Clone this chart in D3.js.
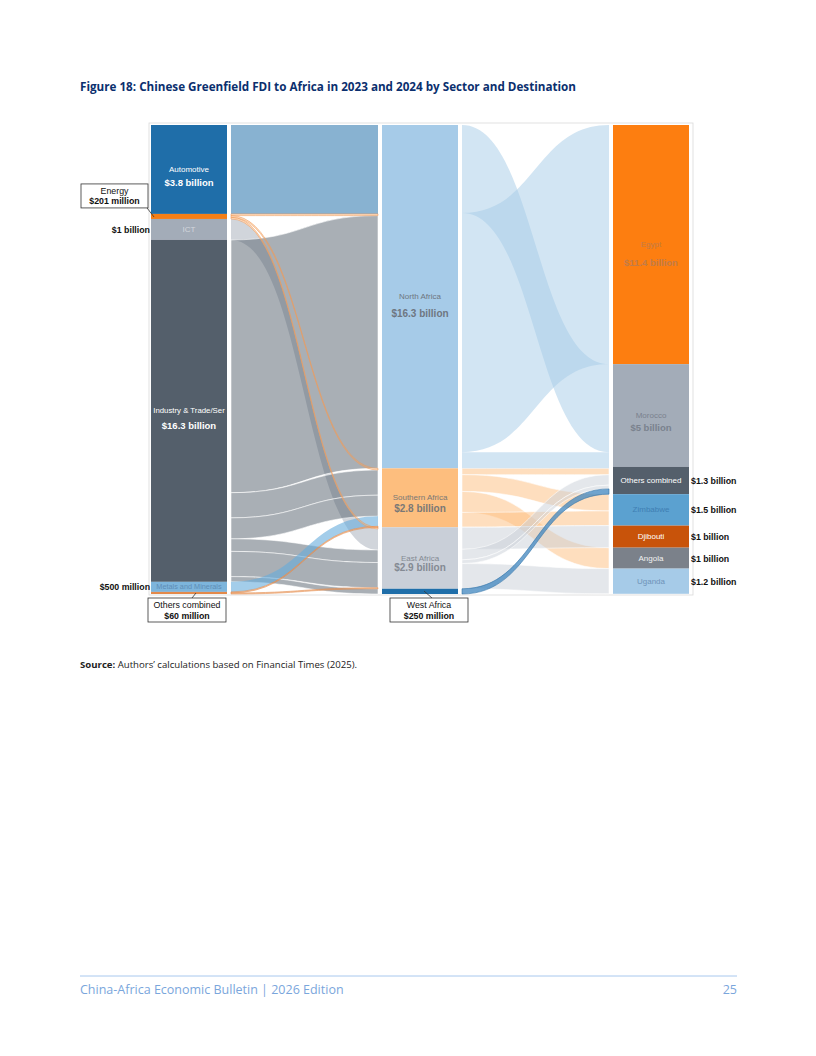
<!DOCTYPE html>
<html>
<head>
<meta charset="utf-8">
<script src="https://cdn.jsdelivr.net/npm/d3@7"></script>
<style>
  body { margin: 0; background: #fff; }
  text { font-family: "Liberation Sans", Arial, sans-serif; }
</style>
</head>
<body>
<script>
// DATA
const sectors = ["Automotive", "Energy", "ICT", "Industry & Trade/Ser", "Metals and Minerals", "Others combined"];
const regions = ["North Africa", "Southern Africa", "East Africa", "West Africa"];
const countries = ["Egypt", "Morocco", "Others combined", "Zimbabwe", "Djibouti", "Angola", "Uganda"];

const sectorLabels = ["$3.8 billion", "$201 million", "$1 billion", "$16.3 billion", "$500 million", "$60 million"];
const regionLabels = ["$16.3 billion", "$2.8 billion", "$2.9 billion", "$250 million"];
const countryLabels = ["$11.4 billion", "$5 billion", "$1.3 billion", "$1.5 billion", "$1 billion", "$1 billion", "$1.2 billion"];

// sector -> region (US$ billion)
const sectorFlows = [
  {from: "Automotive", to: "North Africa", value: 4.24},
  {from: "Energy", to: "North Africa", value: 0.08},
  {from: "Energy", to: "Southern Africa", value: 0.08},
  {from: "Energy", to: "East Africa", value: 0.08},
  {from: "ICT", to: "East Africa", value: 1.0},
  {from: "Industry & Trade/Ser", to: "North Africa", value: 12.05},
  {from: "Industry & Trade/Ser", to: "Southern Africa", value: 1.2},
  {from: "Industry & Trade/Ser", to: "Southern Africa", value: 1.0},
  {from: "Industry & Trade/Ser", to: "East Africa", value: 0.6},
  {from: "Industry & Trade/Ser", to: "East Africa", value: 1.2},
  {from: "Industry & Trade/Ser", to: "West Africa", value: 0.25},
  {from: "Metals and Minerals", to: "Southern Africa", value: 0.48},
  {from: "Others combined", to: "Southern Africa", value: 0.05},
  {from: "Others combined", to: "East Africa", value: 0.05}
];

// region -> country
const regionFlows = [
  {from: "North Africa", to: "Morocco", value: 4.2},
  {from: "North Africa", to: "Egypt", value: 11.4},
  {from: "North Africa", to: "Morocco", value: 0.7},
  {from: "North Africa", to: "Others combined", value: 0.07},
  {from: "Southern Africa", to: "Others combined", value: 0.3},
  {from: "Southern Africa", to: "Zimbabwe", value: 0.8},
  {from: "Southern Africa", to: "Angola", value: 1.0},
  {from: "Southern Africa", to: "Zimbabwe", value: 0.7},
  {from: "East Africa", to: "Djibouti", value: 1.05},
  {from: "East Africa", to: "Others combined", value: 0.5},
  {from: "East Africa", to: "Others combined", value: 0.18},
  {from: "East Africa", to: "Uganda", value: 1.2},
  {from: "West Africa", to: "Others combined", value: 0.25}
];

// STYLES
const sectorColor = {"Automotive": "#1f6ea9", "Energy": "#f57f17", "ICT": "#a3acb8",
  "Industry & Trade/Ser": "#545f6b", "Metals and Minerals": "#7db5dc", "Others combined": "#e3894a"};
const regionColor = {"North Africa": "#a6cbe8", "Southern Africa": "#fdbe7e", "East Africa": "#c9cfd8", "West Africa": "#1f6ea9"};
const countryColor = {"Egypt": "#fd7e10", "Morocco": "#a3acb8", "Others combined": "#545f6b", "Zimbabwe": "#5ba1d0",
  "Djibouti": "#c8530a", "Angola": "#7b818a", "Uganda": "#a6cbe8"};

const sectorText = {"Automotive": "#fff", "ICT": "#d3d7dd", "Industry & Trade/Ser": "#fff", "Metals and Minerals": "#5e8db6"};
const regionText = {"North Africa": "#6e7681", "Southern Africa": "#7a7876", "East Africa": "#848a93"};
const countryText = {"Egypt": "#c27c48", "Morocco": "#7a828e", "Others combined": "#fff", "Zimbabwe": "#3f7fb3",
  "Djibouti": "#fff", "Angola": "#f2f2f2", "Uganda": "#6f93b8"};

const svg = d3.select("body").append("svg")
  .attr("width", 816)
  .attr("height", 1056);

// title
svg.append("text")
  .attr("x", 80).attr("y", 91)
  .attr("textLength", 496).attr("lengthAdjust", "spacingAndGlyphs")
  .style("font-family", "'Open Sans', sans-serif")
  .style("font-weight", 700).style("font-size", "12.5px")
  .attr("fill", "#0b2f6e")
  .text("Figure 18: Chinese Greenfield FDI to Africa in 2023 and 2024 by Sector and Destination");

// frame
svg.append("rect")
  .attr("x", 149).attr("y", 123).attr("width", 544).attr("height", 472)
  .attr("fill", "none").attr("stroke", "#dadada").attr("stroke-width", 0.8);

// scales
const sumBy = (flows, key) => d3.rollup(flows, v => d3.sum(v, d => d.value), d => d[key]);
const sectorTot = sumBy(sectorFlows, "from");
const regionTot = sumBy(sectorFlows, "to");
const countryTot = sumBy(regionFlows, "to");
const maxTot = d3.max([d3.sum(sectorTot.values()), d3.sum(regionTot.values()), d3.sum(countryTot.values())]);

const yScale = d3.scaleLinear().domain([0, maxTot]).range([125, 594]);
const xScale = d3.scalePoint().domain(["sector", "region", "country"]).range([151, 613]);
const nodeW = 76, gap = 4;

function column(names, totals, col) {
  let acc = 0;
  return names.map(n => {
    const v = totals.get(n) || 0;
    const node = {name: n, value: v, x0: xScale(col), x1: xScale(col) + nodeW, y0: yScale(acc), y1: yScale(acc + v)};
    acc += v;
    return node;
  });
}

const sNodes = column(sectors, sectorTot, "sector");
const rNodes = column(regions, regionTot, "region");
const cNodes = column(countries, countryTot, "country");

function placeLinks(flows, srcNodes, tgtNodes) {
  const srcIdx = new Map(srcNodes.map((d, i) => [d.name, i]));
  const srcOff = new Map(srcNodes.map(d => [d.name, d.y0]));
  const tgtOff = new Map(tgtNodes.map(d => [d.name, d.y0]));
  const links = flows.map((f, i) => ({...f, i, h: yScale(f.value) - yScale(0)}));
  links.forEach(l => { l.sy = srcOff.get(l.from); srcOff.set(l.from, l.sy + l.h); });
  links.slice().sort((a, b) => d3.ascending(srcIdx.get(a.from), srcIdx.get(b.from)) || a.i - b.i)
    .forEach(l => { l.ty = tgtOff.get(l.to); tgtOff.set(l.to, l.ty + l.h); });
  return links;
}

function band(l, x0, x1) {
  const xm = (x0 + x1) / 2;
  const p = d3.path();
  p.moveTo(x0, l.sy);
  p.bezierCurveTo(xm, l.sy, xm, l.ty, x1, l.ty);
  p.lineTo(x1, l.ty + l.h);
  p.bezierCurveTo(xm, l.ty + l.h, xm, l.sy + l.h, x0, l.sy + l.h);
  p.closePath();
  return p.toString();
}

const flowStyle = {
  "Automotive": {fill: "#1f6ea9", op: 0.53, stroke: "none"},
  "Energy": {fill: "#f8a35a", op: 0.35, stroke: "#ee9a5a"},
  "ICT": {fill: "#a3acb8", op: 0.5, stroke: "none"},
  "Industry & Trade/Ser": {fill: "#545f6b", op: 0.5, stroke: "#fff"},
  "Metals and Minerals": {fill: "#66acdc", op: 0.6, stroke: "none"},
  "Others combined": {fill: "#f0a060", op: 0.5, stroke: "#e3894a"},
  "North Africa": {fill: "#a6cbe8", op: 0.5, stroke: "none"},
  "Southern Africa": {fill: "#fdbe7e", op: 0.5, stroke: "#fff"},
  "East Africa": {fill: "#c9cfd8", op: 0.5, stroke: "#fff"},
  "West Africa": {fill: "#3f86bf", op: 0.75, stroke: "#2d6fa6"}
};

function drawLinks(links, x0, x1) {
  const ordered = links.slice().sort((a, b) => d3.descending(a.h > 3, b.h > 3) || a.i - b.i);
  svg.append("g").selectAll("path").data(ordered).join("path")
    .attr("d", d => band(d, x0, x1))
    .attr("fill", d => flowStyle[d.from].fill)
    .attr("fill-opacity", d => flowStyle[d.from].op)
    .attr("stroke", d => flowStyle[d.from].stroke)
    .attr("stroke-width", 0.7)
    .attr("stroke-opacity", 0.8);
}

const links1 = placeLinks(sectorFlows, sNodes, rNodes);
const links2 = placeLinks(regionFlows, rNodes, cNodes);
drawLinks(links1, xScale("sector") + nodeW + gap, xScale("region") - gap);
drawLinks(links2, xScale("region") + nodeW + gap, xScale("country") - gap);

function drawNodes(nodes, colors) {
  svg.append("g").selectAll("rect").data(nodes).join("rect")
    .attr("x", d => d.x0).attr("y", d => d.y0)
    .attr("width", nodeW).attr("height", d => d.y1 - d.y0)
    .attr("fill", d => colors[d.name]);
}
drawNodes(sNodes, sectorColor);
drawNodes(rNodes, regionColor);
drawNodes(cNodes, countryColor);

// labels inside nodes
function nodeLabel(node, name, value, color, sizes) {
  const cx = (node.x0 + node.x1) / 2, cy = (node.y0 + node.y1) / 2;
  if (name) svg.append("text").attr("x", cx).attr("y", cy + 2.5).attr("text-anchor", "middle")
    .style("font-size", sizes[0] + "px").attr("fill", color).text(name);
  if (value) svg.append("text").attr("x", cx).attr("y", cy + sizes[2]).attr("text-anchor", "middle")
    .style("font-size", sizes[1] + "px").style("font-weight", 700).attr("fill", color).text(value);
}

nodeLabel(sNodes[0], sectors[0], sectorLabels[0], sectorText["Automotive"], [8, 9.5, 17]);
nodeLabel(sNodes[2], sectors[2], null, sectorText["ICT"], [8]);
nodeLabel(sNodes[3], sectors[3], sectorLabels[3], sectorText["Industry & Trade/Ser"], [7.8, 9.5, 18]);
nodeLabel(sNodes[4], sectors[4], null, sectorText["Metals and Minerals"], [7.3]);
nodeLabel(rNodes[0], regions[0], regionLabels[0], regionText["North Africa"], [8, 10, 20]);
nodeLabel(rNodes[1], regions[1], regionLabels[1], regionText["Southern Africa"], [8, 10, 14]);
nodeLabel(rNodes[2], regions[2], regionLabels[2], regionText["East Africa"], [8, 10, 13]);
nodeLabel(cNodes[0], countries[0], countryLabels[0], countryText["Egypt"], [8, 9.5, 21]);
nodeLabel(cNodes[1], countries[1], countryLabels[1], countryText["Morocco"], [8, 9.5, 15]);
cNodes.slice(2).forEach(n => nodeLabel(n, n.name, null, countryText[n.name], [8]));

// value labels beside the bars
function sideLabel(x, y, anchor, t) {
  svg.append("text").attr("x", x).attr("y", y).attr("text-anchor", anchor)
    .style("font-size", "8.8px").style("font-weight", 700).attr("fill", "#111").text(t);
}
[2, 4].forEach(i => sideLabel(sNodes[i].x0 - 1, (sNodes[i].y0 + sNodes[i].y1) / 2 + 3.5, "end", sectorLabels[i]));
cNodes.slice(2).forEach((n, i) => sideLabel(n.x1 + 2, (n.y0 + n.y1) / 2 + 3.5, "start", countryLabels[i + 2]));

// callout boxes
function callout(bx, by, bw, line, name, value) {
  svg.append("line").attr("x1", line[0]).attr("y1", line[1]).attr("x2", line[2]).attr("y2", line[3])
    .attr("stroke", "#333").attr("stroke-width", 0.8);
  svg.append("rect").attr("x", bx).attr("y", by).attr("width", bw).attr("height", 24)
    .attr("fill", "#fff").attr("stroke", "#333").attr("stroke-width", 0.8);
  svg.append("text").attr("x", bx + bw / 2).attr("y", by + 10).attr("text-anchor", "middle")
    .style("font-size", "8.8px").attr("fill", "#111").text(name);
  svg.append("text").attr("x", bx + bw / 2).attr("y", by + 20.5).attr("text-anchor", "middle")
    .style("font-size", "8.8px").style("font-weight", 700).attr("fill", "#111").text(value);
}
const en = sNodes[1], oc = sNodes[5], wa = rNodes[3];
callout(en.x0 - 70, en.y0 - 30, 67, [en.x0 - 4, en.y0 - 6, en.x0 + 3, en.y1 - 2], sectors[1], sectorLabels[1]);
callout(oc.x0 - 3, oc.y1 + 4, 78, [oc.x0 + 41, oc.y1 + 4, oc.x0 + 45, oc.y1 - 1], "Others combined", sectorLabels[5]);
callout(wa.x0 + 8, wa.y1 + 4, 78, [wa.x0 + 50, wa.y1 + 4, wa.x0 + 42, wa.y1 - 3], regions[3], regionLabels[3]);

// source note
const src = svg.append("text").attr("x", 80).attr("y", 668)
  .style("font-family", "'Open Sans', sans-serif").style("font-size", "9.6px").attr("fill", "#222");
src.append("tspan").style("font-weight", 700).text("Source: ");
src.append("tspan").text("Authors\u2019 calculations based on Financial Times (2025).");

// footer
svg.append("line").attr("x1", 80).attr("x2", 737).attr("y1", 976).attr("y2", 976)
  .attr("stroke", "#a8c8ee").attr("stroke-width", 1);
svg.append("text").attr("x", 80).attr("y", 994)
  .style("font-family", "'Open Sans', sans-serif").style("font-size", "12.5px").attr("fill", "#7aa6dc")
  .text("China-Africa Economic Bulletin | 2026 Edition");
svg.append("text").attr("x", 737).attr("y", 994).attr("text-anchor", "end")
  .style("font-family", "'Open Sans', sans-serif").style("font-size", "12.5px").attr("fill", "#7aa6dc")
  .text("25");
</script>
</body>
</html>
